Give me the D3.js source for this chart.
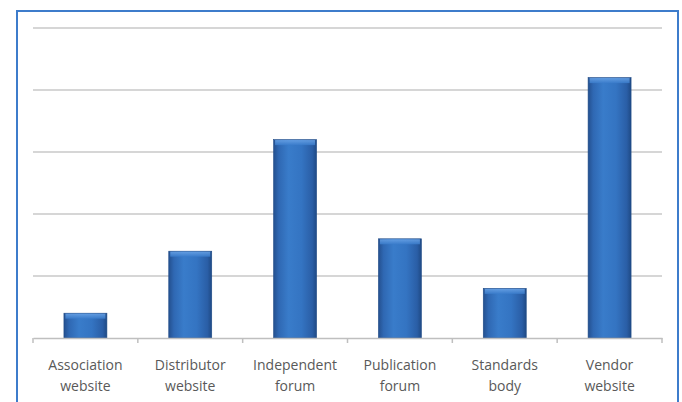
<!DOCTYPE html>
<html>
<head>
<meta charset="utf-8">
<script src="https://cdn.jsdelivr.net/npm/d3@7"></script>
<style>
  html, body { margin: 0; padding: 0; background: #fff; }
  svg { display: block; }
</style>
</head>
<body>
<script>
// Information sources: responses per source
const categories = [
  ["Association", "website"],
  ["Distributor", "website"],
  ["Independent", "forum"],
  ["Publication", "forum"],
  ["Standards", "body"],
  ["Vendor", "website"]
];
const values = [2, 7, 16, 8, 4, 21];
const yTicks = [0, 5, 10, 15, 20, 25];

const W = 682, H = 402;
const margin = { left: 33, right: 20, top: 28, bottom: 64 };

const svg = d3.select("body").append("svg")
  .attr("width", W).attr("height", H);

// bar gradient (horizontal shading with a bevelled top)
const defs = svg.append("defs");
const grad = defs.append("linearGradient").attr("id", "barGrad")
  .attr("x1", "0").attr("x2", "1").attr("y1", "0").attr("y2", "0");
[["0%", "#24508f"], ["12%", "#2f68b3"], ["35%", "#397cca"], ["65%", "#3474c2"], ["90%", "#2a5ea6"], ["100%", "#1f4a85"]]
  .forEach(([o, c]) => grad.append("stop").attr("offset", o).attr("stop-color", c));
const topGrad = defs.append("linearGradient").attr("id", "topGrad")
  .attr("x1", "0").attr("x2", "0").attr("y1", "0").attr("y2", "1");
[["0%", "#6aa3e6"], ["100%", "#3a7ccb"]]
  .forEach(([o, c]) => topGrad.append("stop").attr("offset", o).attr("stop-color", c));

// blue frame (open at the bottom)
svg.append("path")
  .attr("d", `M17,${H} V11 H678 V${H}`)
  .attr("fill", "none").attr("stroke", "#3d7ccb").attr("stroke-width", 2);

const x = d3.scaleBand()
  .domain(d3.range(categories.length))
  .range([margin.left, W - margin.right])
  .paddingInner(0).paddingOuter(0);

const y = d3.scaleLinear()
  .domain([0, 25])
  .range([H - margin.bottom, margin.top]);

// horizontal gridlines
svg.append("g").selectAll("line")
  .data(yTicks.filter(t => t > 0))
  .join("line")
  .attr("x1", margin.left).attr("x2", W - margin.right)
  .attr("y1", d => y(d)).attr("y2", d => y(d))
  .attr("stroke", "#d6d6d6").attr("stroke-width", 1.8);

// bars
const bw = x.bandwidth() * 0.41;
const bars = svg.append("g").selectAll("g")
  .data(values)
  .join("g")
  .attr("transform", (d, i) => `translate(${x(i) + (x.bandwidth() - bw) / 2},0)`);

bars.append("rect")
  .attr("x", 0).attr("width", bw)
  .attr("y", d => y(d)).attr("height", d => y(0) - y(d))
  .attr("fill", "url(#barGrad)")
  .attr("stroke", "#1e4a86").attr("stroke-width", 0.6);

bars.append("rect")
  .attr("x", 1.5).attr("width", bw - 3)
  .attr("y", d => y(d) + 0.5).attr("height", 5)
  .attr("fill", "url(#topGrad)").attr("opacity", 0.85);

// category axis
const axis = d3.axisBottom(x).tickSize(0).tickFormat("");
const gx = svg.append("g")
  .attr("transform", `translate(0,${y(0)})`)
  .call(axis);
gx.select(".domain").attr("stroke", "#bfbfbf").attr("stroke-width", 1.5);

// tick marks at category boundaries
svg.append("g").selectAll("line")
  .data(d3.range(categories.length + 1))
  .join("line")
  .attr("x1", i => margin.left + i * x.step())
  .attr("x2", i => margin.left + i * x.step())
  .attr("y1", y(0)).attr("y2", y(0) + 5)
  .attr("stroke", "#bfbfbf").attr("stroke-width", 1.5);

// category labels
const labels = svg.append("g").selectAll("text")
  .data(categories)
  .join("text")
  .attr("x", (d, i) => x(i) + x.bandwidth() / 2)
  .attr("y", y(0) + 32)
  .attr("text-anchor", "middle")
  .attr("font-family", "'Open Sans', sans-serif")
  .attr("font-size", 14)
  .attr("fill", "#595959");
labels.each(function(d) {
  const t = d3.select(this);
  d.forEach((line, k) => {
    t.append("tspan")
      .attr("x", t.attr("x"))
      .attr("dy", k === 0 ? 0 : 21)
      .text(line);
  });
});
</script>
</body>
</html>
